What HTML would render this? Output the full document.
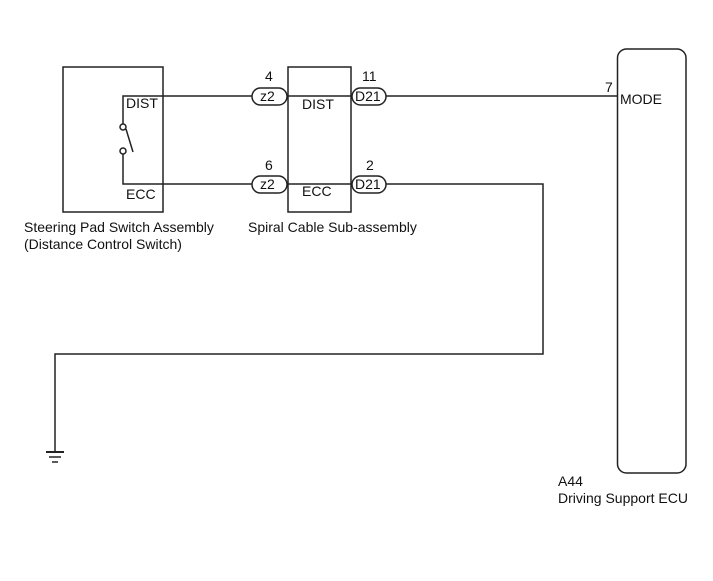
<!DOCTYPE html>
<html><head><meta charset="utf-8"><style>
html,body{margin:0;padding:0;background:#fff;}
svg{display:block}
text{font-family:"Liberation Sans",Arial,sans-serif;font-size:14px;fill:#111}
</style></head><body>
<svg width="713" height="581" viewBox="0 0 713 581" xmlns="http://www.w3.org/2000/svg">
<g fill="none" stroke="#222" stroke-width="1.5">
<rect x="63" y="67" width="100" height="145"/>
<rect x="288" y="67" width="63" height="145"/>
<rect x="617.5" y="49" width="68.5" height="424" rx="9"/>
<polyline points="123,124 123,96 252,96"/>
<line x1="287" y1="96" x2="352" y2="96"/>
<line x1="386" y1="96" x2="617" y2="96"/>
<polyline points="123,154 123,184 252,184"/>
<line x1="287" y1="184" x2="352" y2="184"/>
<polyline points="386,184 543,184 543,354 55,354 55,452"/>
<circle cx="123" cy="127" r="3" fill="#fff"/>
<circle cx="123" cy="151" r="3" fill="#fff"/>
<line x1="133" y1="152" x2="126" y2="129"/>
<rect x="252" y="88" width="35" height="17" rx="8.5" fill="#fff"/>
<rect x="252" y="176" width="35" height="17" rx="8.5" fill="#fff"/>
<rect x="352" y="88" width="34" height="17" rx="8.5" fill="#fff"/>
<rect x="352" y="176" width="34" height="17" rx="8.5" fill="#fff"/>
<line x1="46" y1="452" x2="64" y2="452" stroke-width="2"/>
<line x1="49" y1="457" x2="61" y2="457"/>
<line x1="52" y1="462" x2="58" y2="462"/>
</g>
<text x="126" y="108">DIST</text>
<text x="126" y="199">ECC</text>
<text x="302" y="109">DIST</text>
<text x="302" y="196">ECC</text>
<text x="265" y="81">4</text>
<text x="265" y="170">6</text>
<text x="362" y="81">11</text>
<text x="366" y="170">2</text>
<text x="260" y="101">z2</text>
<text x="260" y="189">z2</text>
<text x="355" y="101">D21</text>
<text x="355" y="189">D21</text>
<text x="605" y="92">7</text>
<text x="620" y="104">MODE</text>
<text x="24" y="232">Steering Pad Switch Assembly</text>
<text x="24" y="249">(Distance Control Switch)</text>
<text x="248" y="232">Spiral Cable Sub-assembly</text>
<text x="558" y="486">A44</text>
<text x="558" y="503">Driving Support ECU</text>
</svg>
</body></html>
